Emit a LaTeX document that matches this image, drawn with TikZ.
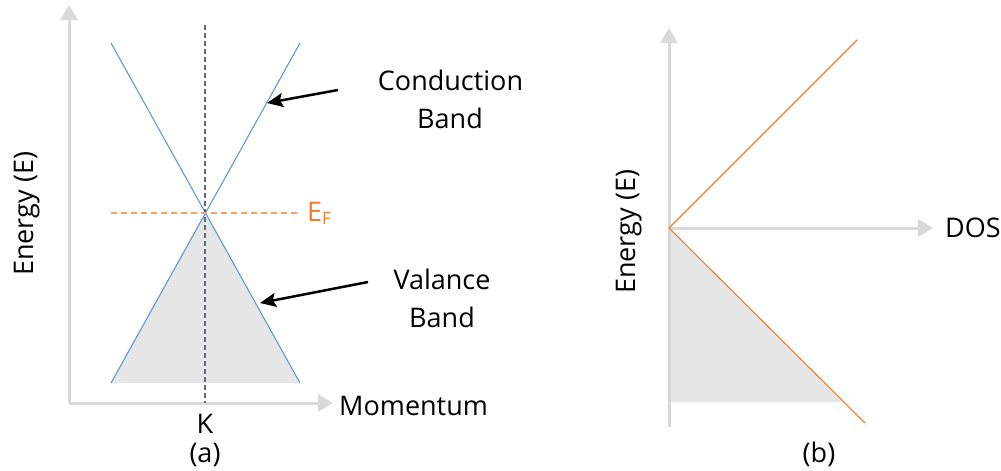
\documentclass[tikz,border=0pt]{standalone}
\usepackage{fontspec}
\setmainfont{Open Sans}
\usetikzlibrary{arrows.meta}
\definecolor{axisgray}{HTML}{D9D9D9}
\definecolor{bandblue}{HTML}{5B9BD5}
\definecolor{dosorange}{HTML}{ED7D31}
\definecolor{eforange}{HTML}{F4A06A}
\definecolor{fillgray}{HTML}{E6E6E6}
\definecolor{kline}{HTML}{5A6A80}
\begin{document}
\begin{tikzpicture}[x=1pt,y=-1pt,
  axis/.style={draw=axisgray,line width=3pt,-{Triangle[length=15pt,width=17pt]}},
  band/.style={draw=bandblue,line width=1.1pt},
  dosline/.style={draw=dosorange,line width=1.1pt},
  callout/.style={draw=black,line width=2.5pt,-{Stealth[length=16pt,width=14pt,inset=3pt]}},
  lbl/.style={inner sep=0pt,font=\fontsize{27}{31}\selectfont},
  shade/.style={fill=fillgray,draw=none}]
\useasboundingbox (0,0) rectangle (1001,471);

% ---------- panel (a) ----------
\coordinate (Oa) at (69,403);
\coordinate (Ya) at (69,5);
\coordinate (Xa) at (333,403);
\coordinate (TL) at (111,43);
\coordinate (TR) at (300,43);
\coordinate (BL) at (111,383);
\coordinate (BR) at (300,383);
\coordinate (D) at (205,213);
\coordinate (Ktop) at (205,25);
\coordinate (Kbot) at (205,403);
\coordinate (EFl) at (111,213);
\coordinate (EFr) at (300,213);

\fill[shade] (BL) -- (D) -- (BR) -- cycle;
\draw[axis] (Oa) -- (Ya);
\draw[axis] (Oa) -- (Xa);
\draw[band] (TL) -- (BR);
\draw[band] (TR) -- (BL);
\draw[draw=kline,line width=1.1pt,dash pattern=on 5pt off 3pt] (Ktop) -- (Kbot);
\draw[draw=eforange,line width=1.2pt,dash pattern=on 6pt off 4pt] (EFl) -- (EFr);

\node[lbl,text=dosorange,anchor=base west] (ef) at (307,221) {E\textsubscript{\fontsize{17}{20}\selectfont F}};

\node[lbl,anchor=base] (cond) at (450.5,90) {Conduction};
\node[lbl,anchor=base] (cband) at (450,128) {Band};
\node[lbl,anchor=base] (val) at (442,289) {Valance};
\node[lbl,anchor=base] (vband) at (442,327) {Band};
\node[lbl,anchor=base west] (mom) at (339,415) {Momentum};
\node[lbl,anchor=base] (k) at (205,433) {K};
\node[lbl,anchor=base] (capa) at (205,462) {(a)};
\node[lbl,anchor=base west,rotate=90] (ena) at (33,276) {Energy (E)};

\coordinate (cs) at (338,90);
\coordinate (ct) at (267,103);
\coordinate (vs) at (368,282);
\coordinate (vt) at (260,303);
\draw[callout] (cs) -- (ct);
\draw[callout] (vs) -- (vt);

% ---------- panel (b) ----------
\coordinate (Ob) at (669,228);
\coordinate (Yb) at (669,28);
\coordinate (Bb) at (669,427);
\coordinate (Xb) at (933,228);
\coordinate (Ub) at (857,40);
\coordinate (Lb) at (865,423);
\coordinate (F1) at (669,402);
\coordinate (F2) at (843,402);

\fill[shade] (Ob) -- (F1) -- (F2) -- cycle;
\draw[axis] (Bb) -- (Yb);
\draw[axis] (Ob) -- (Xb);
\draw[dosline] (Ob) -- (Ub);
\draw[dosline] (Ob) -- (Lb);

\node[lbl,anchor=base west] (dos) at (945,237) {DOS};
\node[lbl,anchor=base] (capb) at (819,462) {(b)};
\node[lbl,anchor=base west,rotate=90] (enb) at (635,294) {Energy (E)};
\end{tikzpicture}
\end{document}
